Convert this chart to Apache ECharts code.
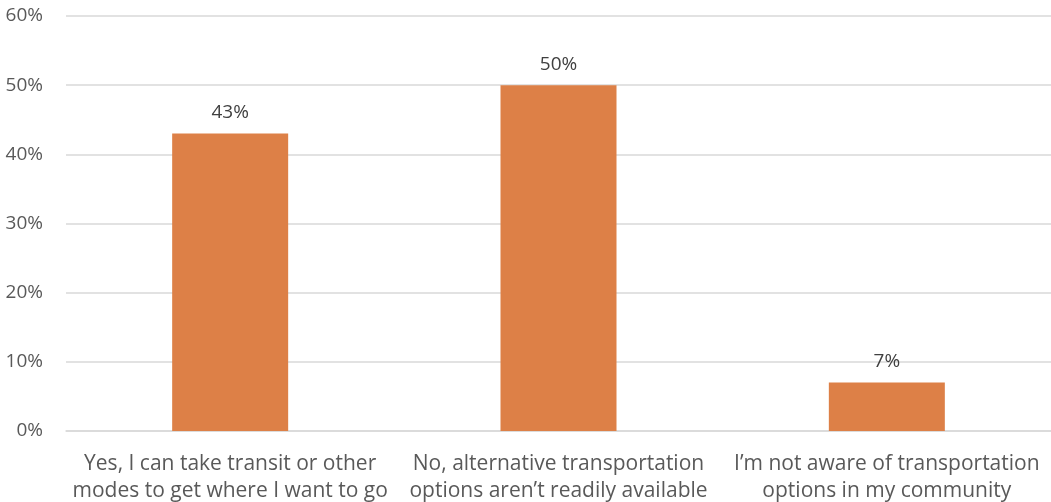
<!DOCTYPE html>
<html>
<head>
<meta charset="utf-8">
<script src="https://cdn.jsdelivr.net/npm/echarts@6/dist/echarts.min.js"></script>
<style>html,body{margin:0;padding:0;background:#fff;}#c{width:1051px;height:502px;}</style>
</head>
<body>
<div id="c"></div>
<script>
const categories = [
  "Yes, I can take transit or other\nmodes to get where I want to go",
  "No, alternative transportation\noptions aren\u2019t readily available",
  "I\u2019m not aware of transportation\noptions in my community"
];
const values = [43, 50, 7];
const yTicks = [0, 10, 20, 30, 40, 50, 60];

const chart = echarts.init(document.getElementById('c'));
chart.setOption({
  animation: false,
  grid: { left: 66, right: 0, top: 16, bottom: 71, containLabel: false, outerBoundsMode: 'none' },
  xAxis: {
    type: 'category',
    data: categories,
    axisTick: { show: false },
    axisLine: { lineStyle: { color: '#D9D9D9', width: 1.5 } },
    axisLabel: {
      color: '#595959', fontFamily: 'Open Sans', fontSize: 21,
      lineHeight: 27, margin: 20, interval: 0
    }
  },
  yAxis: {
    type: 'value', min: yTicks[0], max: yTicks[yTicks.length - 1], interval: 10,
    axisLine: { show: false }, axisTick: { show: false },
    splitLine: { lineStyle: { color: '#D9D9D9', width: 1.5 } },
    axisLabel: {
      color: '#595959', fontFamily: 'Open Sans', fontSize: 19, margin: 23,
      formatter: v => v + '%'
    }
  },
  series: [{
    type: 'bar',
    data: values,
    barWidth: 116,
    itemStyle: { color: '#DD8047' },
    label: {
      show: true, position: 'top', distance: 11,
      color: '#404040', fontFamily: 'Open Sans', fontSize: 19,
      formatter: p => p.value + '%'
    }
  }]
});
</script>
</body>
</html>
